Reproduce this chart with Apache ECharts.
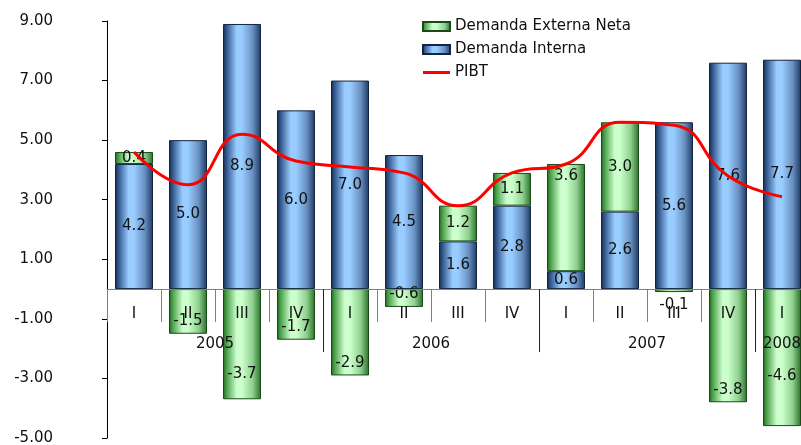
<!DOCTYPE html>
<html>
<head>
<meta charset="utf-8">
<script src="https://cdn.jsdelivr.net/npm/echarts@6/dist/echarts.min.js"></script>
<style>
html,body{margin:0;padding:0;background:#fff;}
#chart{width:801px;height:445px;}
</style>
</head>
<body>
<div id="chart"></div>
<script>
// ---- data ----
const quarters = ['I','II','III','IV','I','II','III','IV','I','II','III','IV','I'];
const years = ['2005','2006','2007','2008'];
const quartersPerYear = [4,4,4,1];
const demandaInterna = [4.2,5.0,8.9,6.0,7.0,4.5,1.6,2.8,0.6,2.6,5.6,7.6,7.7];
const demandaExterna = [0.4,-1.5,-3.7,-1.7,-2.9,-0.6,1.2,1.1,3.6,3.0,-0.1,-3.8,-4.6];
const pibt = [4.6,3.5,5.2,4.3,4.1,3.9,2.8,3.9,4.2,5.6,5.5,3.8,3.1];
const yMin = -5, yMax = 9, yStep = 2;

// ---- label style tweaks (styling, not data) ----
const interLabelTweaks = {2:{offset:[0,10]}};
const externLabelTweaks = {
  2:{position:'insideBottom',distance:18},
  8:{position:'insideTop',distance:5},
  10:{position:'bottom',distance:6},
  12:{position:'insideBottom',distance:42}
};

// year axis built from the year/quarter arrays (half-category steps)
const nHalf = quarters.length*2 + 1;
const yearAxisData = new Array(nHalf).fill('');
const yearBoundaryIdx = [];
let start = 0;
years.forEach((y,i)=>{
  yearAxisData[2*start + quartersPerYear[i]] = y;
  start += quartersPerYear[i];
  if (i < years.length-1) yearBoundaryIdx.push(2*start);
});

// layout
const GRID_TOP = 21, GRID_BOTTOM = 7, H = 445;
const gridH = H - GRID_TOP - GRID_BOTTOM;
const zeroOffset = -gridH * (0 - yMin) / (yMax - yMin); // move x axes up to value 0

const FONT = 'DejaVu Sans';
const blueGrad = new echarts.graphic.LinearGradient(0,0,1,0,[
  {offset:0,color:'#152a4c'},{offset:0.1,color:'#355a8e'},
  {offset:0.36,color:'#99ccff'},{offset:0.5,color:'#99ccff'},
  {offset:0.78,color:'#6890c2'},{offset:1,color:'#1c3862'}]);
const greenGrad = new echarts.graphic.LinearGradient(0,0,1,0,[
  {offset:0,color:'#1f661f'},{offset:0.1,color:'#4ea34e'},
  {offset:0.36,color:'#ccffcc'},{offset:0.5,color:'#ccffcc'},
  {offset:0.78,color:'#8fd08f'},{offset:1,color:'#257025'}]);

const labelBase = {show:true,position:'inside',color:'#111',fontSize:15,fontFamily:FONT,
  formatter:p=>p.value.toFixed(1)};

const interData = demandaInterna.map((v,i)=>{
  const t = interLabelTweaks[i];
  return t ? {value:v,label:t} : v;
});
const externData = demandaExterna.map((v,i)=>{
  let t = externLabelTweaks[i];
  if (!t && v < 0) t = {position:'insideBottom',distance:5};
  return t ? {value:v,label:t} : v;
});

const chart = echarts.init(document.getElementById('chart'),null,{renderer:'canvas'});
chart.setOption({
  animation:false,
  backgroundColor:'#fff',
  textStyle:{fontFamily:FONT},
  grid:{left:107,right:-8,top:GRID_TOP,bottom:GRID_BOTTOM,outerBoundsMode:'none',containLabel:false},
  legend:{
    orient:'vertical',left:422,top:19,padding:0,itemWidth:27,itemHeight:9,itemGap:8,
    textStyle:{fontSize:15,color:'#111',fontFamily:FONT},
    data:[{name:'Demanda Externa Neta',icon:'rect'},{name:'Demanda Interna',icon:'rect'},
          {name:'PIBT',icon:'path://M0,0 L27,0 L27,3 L0,3 Z',itemStyle:{color:'#ff0000',borderWidth:0}}]
  },
  xAxis:[
    {type:'category',position:'bottom',offset:zeroOffset,data:quarters,z:10,
     axisLine:{onZero:false,lineStyle:{color:'#808080',width:1}},
     axisTick:{show:true,interval:0,length:33,lineStyle:{color:'#808080'}},
     axisLabel:{show:true,interval:0,margin:18,fontSize:15,color:'#111',fontFamily:FONT},
     splitLine:{show:false}},
    {type:'category',position:'bottom',offset:zeroOffset,data:yearAxisData,boundaryGap:false,z:10,
     axisLine:{show:false,onZero:false},
     axisTick:{show:true,length:63,interval:(idx)=>yearBoundaryIdx.indexOf(idx)>=0,lineStyle:{color:'#222'}},
     axisLabel:{show:true,interval:(idx,val)=>val!=='',margin:48,fontSize:15,color:'#111',fontFamily:FONT},
     splitLine:{show:false}}
  ],
  yAxis:{type:'value',min:yMin,max:yMax,interval:yStep,
    axisLine:{show:true,onZero:false,lineStyle:{color:'#000',width:1}},
    axisTick:{show:true,length:5,lineStyle:{color:'#000'}},
    axisLabel:{margin:54,fontSize:15,color:'#111',fontFamily:FONT,formatter:v=>v.toFixed(2)},
    splitLine:{show:false}},
  series:[
    {name:'Demanda Interna',type:'bar',stack:'total',barWidth:38,xAxisIndex:0,
     itemStyle:{color:blueGrad,borderColor:'#14243f',borderWidth:1},
     label:labelBase,data:interData},
    {name:'Demanda Externa Neta',type:'bar',stack:'total',barWidth:38,xAxisIndex:0,
     itemStyle:{color:greenGrad,borderColor:'#1a4a1a',borderWidth:1},
     label:labelBase,data:externData},
    {name:'PIBT',type:'line',xAxisIndex:0,data:pibt,smooth:0.5,symbol:'none',z:12,
     itemStyle:{color:'#ff0000'},
     lineStyle:{color:'#ff0000',width:3}}
  ]
});
</script>
</body>
</html>
